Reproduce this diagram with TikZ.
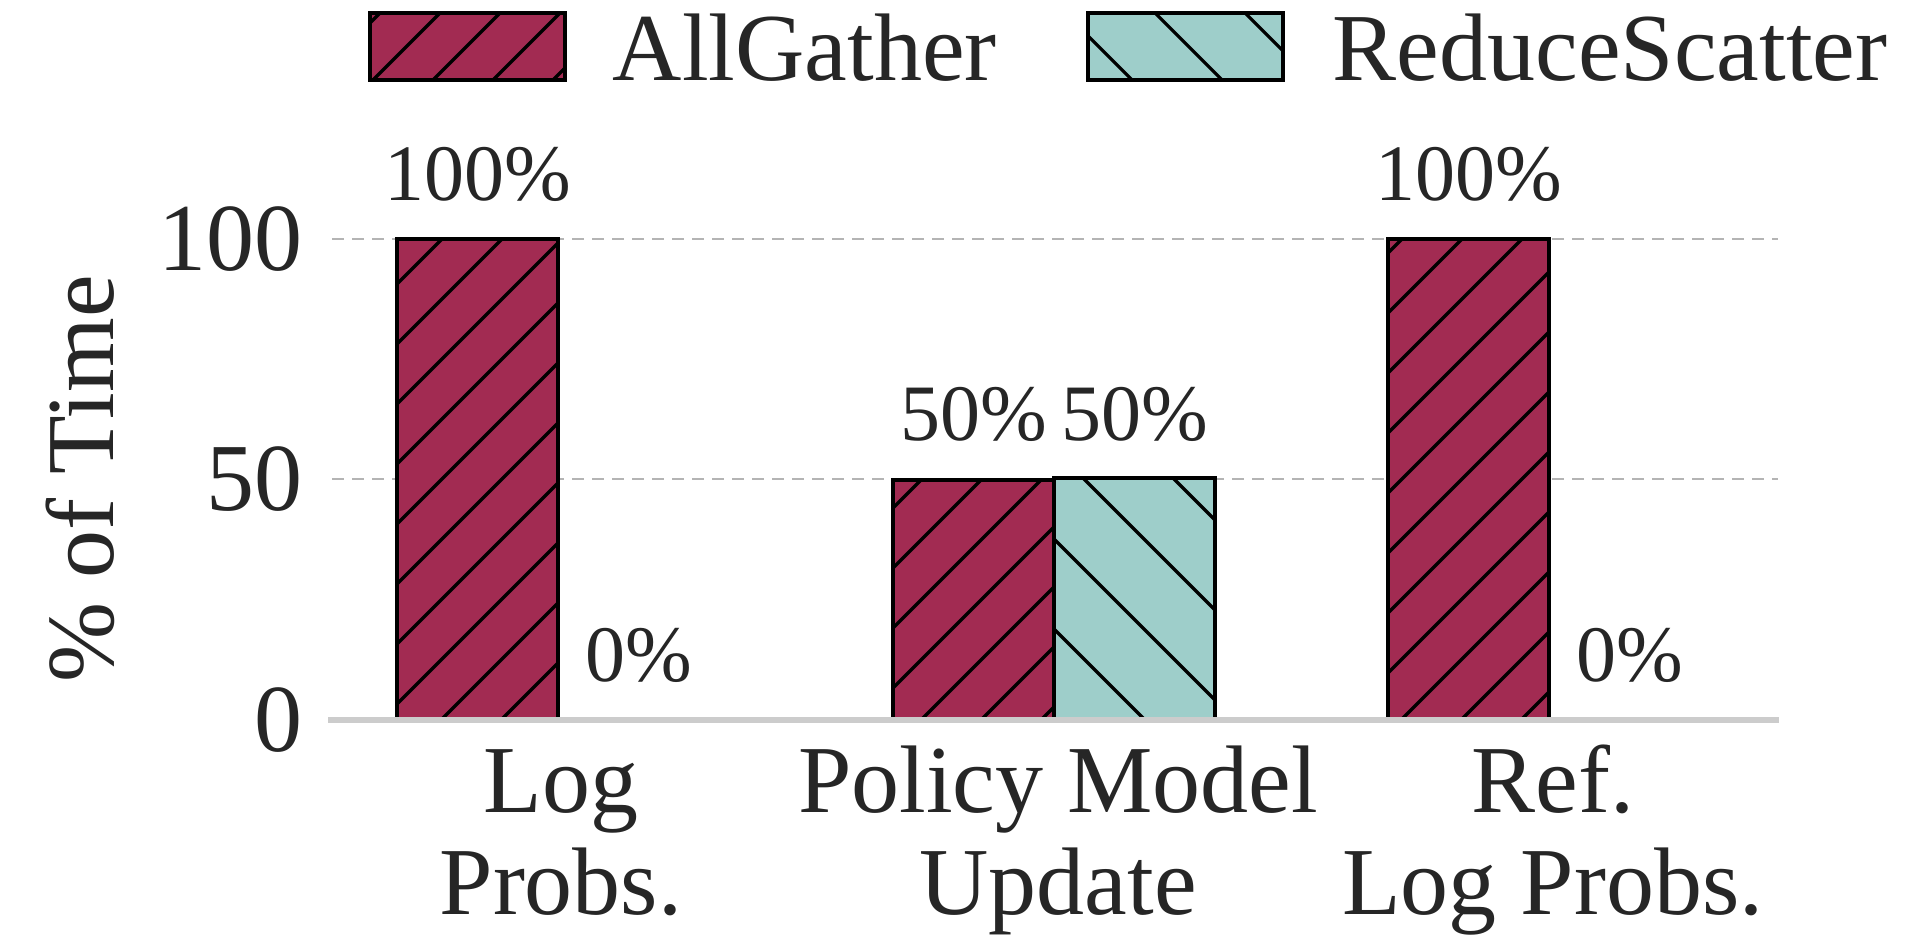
\documentclass[tikz,border=0pt]{standalone}
\usepackage{fontspec}
\setmainfont{Liberation Serif}
\definecolor{agcol}{RGB}{162,43,82}
\definecolor{rscol}{RGB}{158,206,202}
\definecolor{txtcol}{RGB}{38,38,38}
\definecolor{gridcol}{RGB}{180,180,180}
\definecolor{axcol}{RGB}{204,204,204}
\tikzset{
  hatchline/.style={black, line width=0.8pt},
  baredge/.style={black, line width=0.8pt},
  gridline/.style={gridcol, line width=0.65pt, dash pattern=on 3pt off 2pt},
  axisline/.style={axcol, line width=1.6pt},
  bigtext/.style={text=txtcol, inner sep=0pt, font=\rmfamily\fontsize{24pt}{24pt}\selectfont},
  valtext/.style={text=txtcol, inner sep=0pt, font=\rmfamily\fontsize{20pt}{20pt}\selectfont},
}
% x + y = const hatch ("/")
\newcommand\slashfill[5]{%
  \begin{scope}
    \clip (#1,#2) rectangle (#3,#4);
    \foreach \k in {0,...,64}{\draw[hatchline] ({\k*60+#5-1000},1000) -- ({\k*60+#5},0);}
  \end{scope}}
% y - x = const hatch ("\")
\newcommand\backfill[5]{%
  \begin{scope}
    \clip (#1,#2) rectangle (#3,#4);
    \foreach \k in {0,...,45}{\draw[hatchline] (0,{\k*90+#5-2000}) -- (2000,{\k*90+#5});}
  \end{scope}}
\newcommand\agbar[4]{%
  \fill[agcol] (#1,#2) rectangle (#3,#4);
  \slashfill{#1}{#2}{#3}{#4}{21}
  \draw[baredge] (#1,#2) rectangle (#3,#4);}
\newcommand\rsbar[4]{%
  \fill[rscol] (#1,#2) rectangle (#3,#4);
  \backfill{#1}{#2}{#3}{#4}{45}
  \draw[baredge] (#1,#2) rectangle (#3,#4);}
\begin{document}
\begin{tikzpicture}[x=0.25pt, y=-0.25pt]
\fill[white] (0,0) rectangle (1920,951);
\useasboundingbox (0,0) rectangle (1920,951);

% grid lines
\coordinate (g100l) at (332,239);
\coordinate (g100r) at (1778,239);
\coordinate (g50l) at (332,479);
\coordinate (g50r) at (1778,479);
\draw[gridline] (g100l) -- (g100r);
\draw[gridline] (g50l) -- (g50r);

% bars
\agbar{397}{239}{558}{720}
\agbar{893}{480}{1054}{720}
\rsbar{1054}{478}{1215}{720}
\agbar{1388}{239}{1549}{720}

% baseline
\coordinate (axl) at (328,720);
\coordinate (axr) at (1779,720);
\draw[axisline] (axl) -- (axr);

% y ticks
\node[bigtext, anchor=east] (t100) at (303,239) {100};
\node[bigtext, anchor=east] (t50) at (303,479) {50};
\node[bigtext, anchor=east] (t0) at (303,720) {0};
\node[bigtext, anchor=base, rotate=90] (ylab) at (113,479) {\% of Time};

% value labels
\node[valtext, anchor=base] (v1) at (477.5,201) {100\%};
\node[valtext, anchor=base] (v2) at (639,682) {0\%};
\node[valtext, anchor=base] (v3) at (973.5,441) {50\%};
\node[valtext, anchor=base] (v4) at (1134.5,441) {50\%};
\node[valtext, anchor=base] (v5) at (1468.5,201) {100\%};
\node[valtext, anchor=base] (v6) at (1630,682) {0\%};

% x tick labels
\node[bigtext, anchor=base] (x1a) at (561,813) {Log};
\node[bigtext, anchor=base] (x1b) at (561,915) {Probs.};
\node[bigtext, anchor=base] (x2a) at (1058,813) {Policy Model};
\node[bigtext, anchor=base] (x2b) at (1058,915) {Update};
\node[bigtext, anchor=base] (x3a) at (1553,813) {Ref.};
\node[bigtext, anchor=base] (x3b) at (1553,915) {Log Probs.};

% legend
\fill[agcol] (370,13) rectangle (565,80);
\slashfill{370}{13}{565}{80}{33}
\draw[baredge] (370,13) rectangle (565,80);
\node[bigtext, anchor=base west] (lag) at (612,81) {AllGather};
\fill[rscol] (1088,13) rectangle (1283,80);
\backfill{1088}{13}{1283}{80}{48}
\draw[baredge] (1088,13) rectangle (1283,80);
\node[bigtext, anchor=base west] (lrs) at (1332,81) {ReduceScatter};
\end{tikzpicture}
\end{document}
